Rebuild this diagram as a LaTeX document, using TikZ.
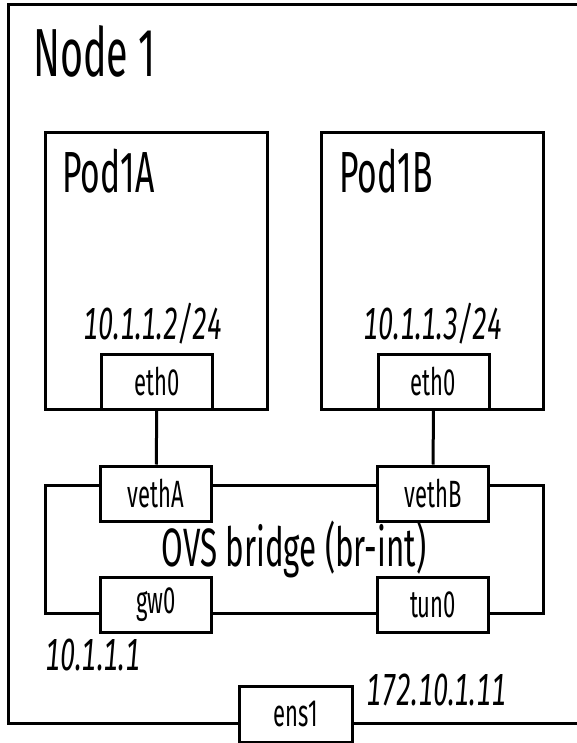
\documentclass[tikz,border=0pt]{standalone}
\usepackage{fontspec}
\setmainfont{Fira Sans}[FakeStretch=0.58]
\newfontfamily\ipfont{Fira Sans}[FakeStretch=0.6, Numbers=Monospaced]
\usetikzlibrary{positioning}

\tikzset{
  wire/.style={line width=3pt},
  pod/.style={draw, line width=3pt, inner sep=0pt, minimum width=222pt, minimum height=276pt},
  port/.style={draw, line width=3pt, fill=white, inner sep=0pt, minimum width=111pt, minimum height=55pt,
    font=\fontsize{38}{38}\selectfont},
  bridge/.style={draw, line width=3pt, inner sep=0pt, minimum width=498pt, minimum height=128pt,
    font=\fontsize{54}{54}\selectfont},
  title/.style={anchor=base west, inner sep=0pt},
  ip/.style={inner sep=0pt, font=\fontsize{45}{45}\ipfont\itshape},
}

\begin{document}
\begin{tikzpicture}[x=1pt,y=-1pt]
  \useasboundingbox (0,0) rectangle (577,743);

  % NODE 1 (open on the right)
  \draw[wire] (580,5) -- (8,5) -- (8,723) -- (580,723);
  \node[title, font=\fontsize{68}{68}\selectfont] (node1) at (33,77) {Node 1};

  % PODS
  \node[pod] (pod1a) at (156,271) {};
  \node[pod] (pod1b) at (432.5,271) {};
  \node[title, font=\fontsize{58}{58}\selectfont] (pod1alabel) at (62,193) {Pod1A};
  \node[title, font=\fontsize{58}{58}\selectfont] (pod1blabel) at (339,193) {Pod1B};
  \node[ip, anchor=base] (ipa) at (153,339) {10.1.1.2/24};
  \node[ip, anchor=base] (ipb) at (433,339) {10.1.1.3/24};
  \node[port] (eth0a) at (157,382) {eth0};
  \node[port] (eth0b) at (433.5,382) {eth0};

  % BRIDGE
  \node[bridge] (br) at (294,549) {OVS bridge (br-int)};
  \node[port] (vetha) at (156,493.5) {vethA};
  \node[port] (vethb) at (433,493.5) {vethB};
  \node[port] (gw0) at (156,604.5) {gw0};
  \node[port] (tun0) at (433,604.5) {tun0};
  \node[ip, anchor=base west, font=\fontsize{45}{45}\ipfont\itshape] (gwip) at (45,670) {10.1.1.1};

  % UPLINK
  \node[port, minimum width=113pt, minimum height=56pt] (ens1) at (295.5,714) {ens1};
  \node[ip, anchor=base west, font=\fontsize{45}{45}\ipfont\itshape] (ensip) at (366,705) {172.10.1.11};

  % LINKS
  \draw[wire] (eth0a) -- (vetha);
  \draw[wire] (eth0b) -- (vethb);
\end{tikzpicture}
\end{document}
